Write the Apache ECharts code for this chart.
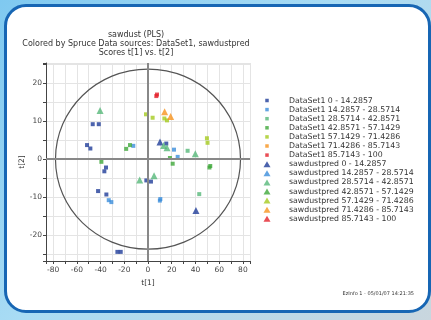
<!DOCTYPE html>
<html>
<head>
<meta charset="utf-8">
<script src="https://cdn.jsdelivr.net/npm/echarts@6/dist/echarts.min.js"></script>
<style>
  html, body { margin: 0; padding: 0; width: 431px; height: 320px; overflow: hidden; }
  body { background: linear-gradient(135deg, #7fc9f0 0%, #a9dcf4 45%, #c9d6de 100%); }
  #frame {
    position: absolute; left: 4px; top: 4px; width: 427px; height: 309px;
    box-sizing: border-box; border: 3px solid #1766b4; border-radius: 22px;
    background: #fff;
  }
  #chart { position: absolute; left: 0; top: 0; width: 431px; height: 320px; }
</style>
</head>
<body>
<div id="frame"></div>
<div id="chart"></div>
<script>
// scores t[1], t[2] per colour class
const ds1_0 = [[-46.6, 9.2], [-41.5, 9.2], [-51.4, 3.7], [-48.6, 2.8], [-35.4, -2.2], [-36.8, -3.2],
               [-42.1, -8.4], [-35.1, -9.3], [-1.4, -5.6], [2.5, -5.9], [15.4, 4.1], [-25.8, -24.4], [-23.0, -24.4]];
const ds1_1 = [[-12.4, 3.5], [-33.1, -10.8], [-30.9, -11.3], [21.9, 2.5], [25.0, 0.6], [10.4, -10.5], [10.0, -10.9]];
const ds1_2 = [[33.4, 2.2], [43.2, -9.2]];
const ds1_3 = [[-18.4, 2.7], [-15.2, 3.7], [-39.3, -0.7], [18.5, 0.3], [20.8, -1.2], [52.5, -1.8], [51.8, -2.2]];
const ds1_4 = [[-1.7, 11.8], [3.9, 10.9], [13.8, 10.7], [16.0, 10.2], [49.7, 5.5], [50.2, 4.3]];
const ds1_5 = [];
const ds1_6 = [[7.0, 16.6], [7.6, 17.0]];
const pred_0 = [[10.1, 4.5], [40.4, -13.5]];
const pred_1 = [];
const pred_2 = [[-40.4, 12.8], [39.9, 1.4], [-7.0, -5.5], [5.1, -4.4], [13.2, 3.6], [16.0, 3.0]];
const pred_3 = [];
const pred_4 = [];
const pred_5 = [[14.0, 12.5], [19.1, 11.2]];
const pred_6 = [];

const classLabels = ['0 - 14.2857', '14.2857 - 28.5714', '28.5714 - 42.8571', '42.8571 - 57.1429',
                     '57.1429 - 71.4286', '71.4286 - 85.7143', '85.7143 - 100'];
const colors = ['#1f3c98', '#3b8ddb', '#56b879', '#3fa83a', '#a5cb1f', '#f7941e', '#e3202a'];
const ds1Sets = [ds1_0, ds1_1, ds1_2, ds1_3, ds1_4, ds1_5, ds1_6];
const predSets = [pred_0, pred_1, pred_2, pred_3, pred_4, pred_5, pred_6];

// Hotelling T2 ellipse radii
const ellipseRadii = [78, 23.7];

const font = 'DejaVu Sans';
// legend icons drawn inside a 34x6 box so they keep their shape
const legendSquare = 'path://M0,0M34,6M15.25,1.25L18.75,1.25L18.75,4.75L15.25,4.75Z';
const legendTriangle = 'path://M0,0M34,6M17,0L20.5,6L13.5,6Z';

const series = [];
const legendData = [];
ds1Sets.forEach((d, i) => {
  const name = 'DataSet1 ' + classLabels[i];
  series.push({ name, type: 'scatter', symbol: 'rect', symbolSize: 4, data: d,
    itemStyle: { color: colors[i] }, z: 3 });
  legendData.push({ name, icon: legendSquare });
});
predSets.forEach((d, i) => {
  const name = 'sawdustpred ' + classLabels[i];
  series.push({ name, type: 'scatter', symbol: 'triangle', symbolSize: 7, data: d,
    itemStyle: { color: colors[i] }, z: 4 });
  legendData.push({ name, icon: legendTriangle });
});

series.push({
  type: 'custom', silent: true, z: 2,
  data: [[0, 0]],
  renderItem: (params, api) => {
    const c = api.coord([0, 0]);
    const s = api.size(ellipseRadii);
    return { type: 'ellipse', shape: { cx: c[0], cy: c[1], rx: s[0], ry: s[1] },
      style: { fill: 'none', stroke: '#555', lineWidth: 1.2 } };
  },
  markLine: {
    silent: true, symbol: 'none', label: { show: false },
    lineStyle: { color: '#888', width: 2, type: 'solid' },
    data: [{ xAxis: 0 }, { yAxis: 0 }]
  }
});

const chart = echarts.init(document.getElementById('chart'));
chart.setOption({
  animation: false,
  title: {
    text: 'sawdust (PLS)\nColored by Spruce Data sources: DataSet1, sawdustpred\nScores t[1] vs. t[2]',
    left: 131, top: 25, textAlign: 'center',
    textStyle: { fontFamily: font, fontSize: 8, fontWeight: 'normal', color: '#333', lineHeight: 9 }
  },
  legend: {
    orient: 'vertical', left: 245, top: 91,
    itemWidth: 34, itemHeight: 6, itemGap: 0.1,
    data: legendData,
    textStyle: { fontFamily: font, fontSize: 7.8, color: '#333', lineHeight: 9, padding: 0 }
  },
  grid: { left: 46, right: 181, top: 63, bottom: 59, containLabel: false },
  xAxis: {
    type: 'value', min: -86, max: 86, splitNumber: 17,
    name: 't[1]', nameLocation: 'middle', nameGap: 18,
    nameTextStyle: { fontFamily: font, fontSize: 7.5, color: '#333' },
    axisLine: { onZero: false, lineStyle: { color: '#444', width: 1 } },
    axisTick: { show: true, length: 3, lineStyle: { color: '#444' } },
    axisLabel: { fontFamily: font, fontSize: 7.5, color: '#444', margin: 5,
      formatter: v => (Math.abs(v % 20) < 1e-6 ? String(v) : '') },
    splitLine: { show: true, lineStyle: { color: '#e4e4e4', width: 1 } }
  },
  yAxis: {
    type: 'value', min: -26.8, max: 25.3, splitNumber: 10,
    name: 't[2]', nameLocation: 'middle', nameGap: 20,
    nameTextStyle: { fontFamily: font, fontSize: 7.5, color: '#333' },
    axisLine: { show: true, onZero: false, lineStyle: { color: '#444', width: 1 } },
    axisTick: { show: true, length: 3, lineStyle: { color: '#444' } },
    axisLabel: { fontFamily: font, fontSize: 7.5, color: '#444', margin: 4,
      formatter: v => (Math.abs(v % 10) < 1e-6 ? String(v) : '') },
    splitLine: { show: true, lineStyle: { color: '#e4e4e4', width: 1 } }
  },
  graphic: [{
    type: 'text', right: 17, top: 291,
    style: { text: 'EzInfo 1 - 05/01/07 14:21:35', fontFamily: font, fontSize: 5, fill: '#333' }
  }],
  series
});
</script>
</body>
</html>
